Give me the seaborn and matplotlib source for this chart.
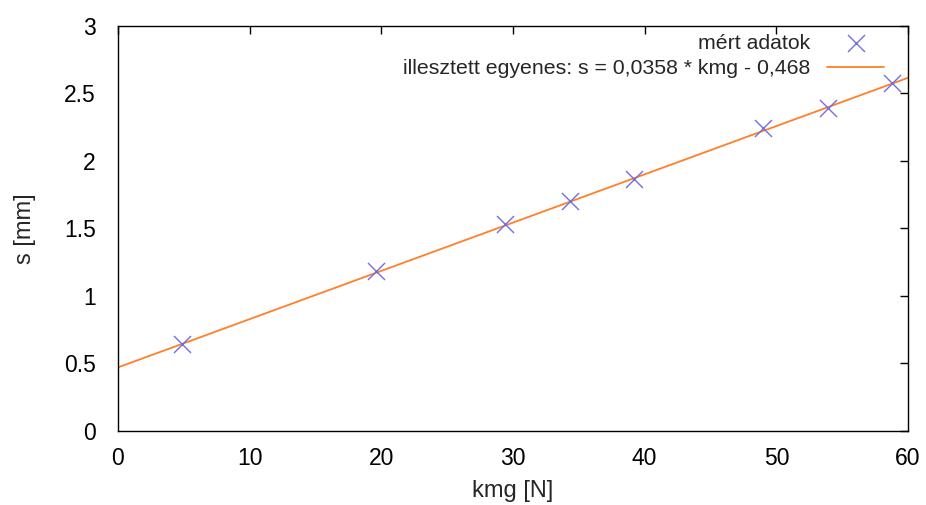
import numpy as np
import pandas as pd
import matplotlib
matplotlib.use("Agg")
import matplotlib.pyplot as plt
import seaborn as sns

# Measured load (kmg, N) and displacement (s, mm)
kmg = [4.9, 19.6, 29.4, 34.3, 39.2, 49.0, 53.9, 58.8]
s_mm = [0.64, 1.18, 1.535, 1.70, 1.865, 2.24, 2.395, 2.575]

# Fitted straight line parameters
slope = 0.0358
intercept = 0.468
fit_label = "illesztett egyenes: s = 0,0358 * kmg - 0,468"
data_label = "mért adatok"

x_ticks = [0, 10, 20, 30, 40, 50, 60]
y_ticks = [0, 0.5, 1, 1.5, 2, 2.5, 3]
y_tick_labels = ["0", "0.5", "1", "1.5", "2", "2.5", "3"]

sns.set_style("white")
plt.rcParams["font.family"] = ["Liberation Sans", "DejaVu Sans"]

df_pts = pd.DataFrame({"kmg": kmg, "s": s_mm})
x_fit = np.array([x_ticks[0], x_ticks[-1]], dtype=float)
df_fit = pd.DataFrame({"kmg": x_fit, "s": slope * x_fit + intercept})

fig = plt.figure(figsize=(9.26, 5.05), dpi=100)
ax = fig.add_axes([0.1274, 0.1475, 0.8532, 0.801])

sns.scatterplot(data=df_pts, x="kmg", y="s", ax=ax, marker="x", s=150,
                color="#6f6fe0", linewidth=1.0, label=data_label, zorder=3)
sns.lineplot(data=df_fit, x="kmg", y="s", ax=ax, color="#ff7f2a",
             linewidth=1.3, label=fit_label, zorder=2)

ax.set_xlim(0, 60)
ax.set_ylim(0, 3)
ax.set_xticks(x_ticks)
ax.set_yticks(y_ticks)
ax.set_yticklabels(y_tick_labels)
ax.tick_params(direction="in", length=6, width=1, top=True, right=True,
               labelsize=16.5, colors="black")
ax.tick_params(axis="y", pad=16)
ax.tick_params(axis="x", pad=12)
for sp in ax.spines.values():
    sp.set_color("black")
    sp.set_linewidth(1.0)

ax.set_xlabel("kmg [N]", fontsize=17, labelpad=7)
ax.set_ylabel("s [mm]", fontsize=17, labelpad=20)

ax.legend(loc="upper right", frameon=False, markerfirst=False, fontsize=15.3,
          handlelength=2.68, handletextpad=0.8, labelspacing=0.3,
          borderaxespad=0.0, borderpad=0.0, bbox_to_anchor=(0.9696, 0.981))

fig.savefig("out.png", dpi=100)
